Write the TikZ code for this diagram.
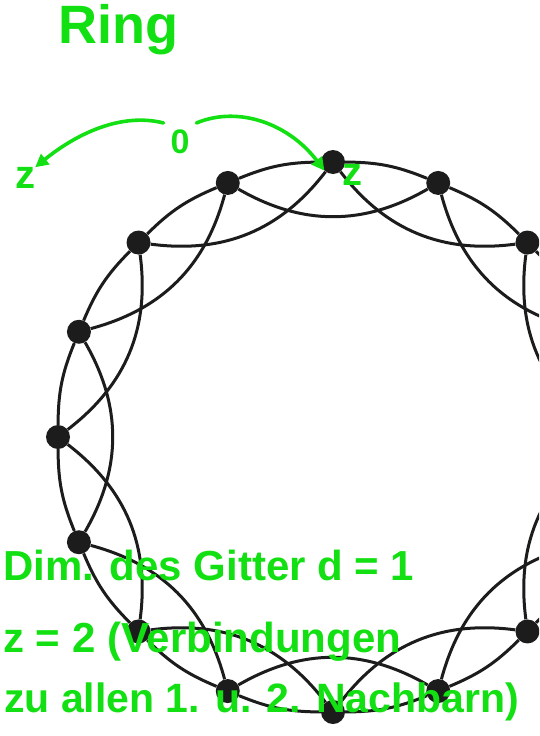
\documentclass[tikz,border=0pt]{standalone}
\usepackage{fontspec}
\usepackage{tikz}
\usetikzlibrary{arrows.meta,calc}
\newfontfamily\handfont{Liberation Sans}
\definecolor{penGreen}{HTML}{12E012}
\definecolor{ringInk}{HTML}{1C1C1C}

\begin{document}
\begin{tikzpicture}[
  x=1pt, y=-1pt,
  vertex/.style={circle, fill=ringInk, inner sep=0pt, minimum size=24pt},
  link/.style={draw=ringInk, line width=3pt},
  pen/.style={text=penGreen, inner sep=0pt, font=\handfont\bfseries\fontsize{42}{46}\selectfont},
  penarr/.style={-{Triangle[length=13pt,width=13pt]}, draw=penGreen, line width=3.6pt, line cap=round}
]
  \useasboundingbox (0,0) rectangle (539,736);
  \clip (0,0) rectangle (539,736);

  % ring lattice, 16 sites
  \foreach \k in {0,...,15}
    \node[vertex] (v\k) at ({333+275*cos(90+22.5*\k)}, {437-275*sin(90+22.5*\k)}) {};
  \foreach \k in {0,...,15} {
    \pgfmathtruncatemacro\nA{mod(\k+1,16)}
    \pgfmathtruncatemacro\nB{mod(\k+2,16)}
    \draw[link] (v\k) to[bend right=11] (v\nA);
    \draw[link] (v\k) to[bend left=30] (v\nB);
  }

  % notes
  \node[pen, anchor=base west, font=\handfont\bfseries\fontsize{54}{58}\selectfont] (ring) at (58,43) {Ring};
  \node[pen, font=\handfont\bfseries\fontsize{34}{38}\selectfont, outer sep=7pt] (zero) at (180,142) {0};
  \node[pen, font=\handfont\bfseries\fontsize{40}{44}\selectfont] (zl) at (25,178) {z};
  \node[pen, font=\handfont\bfseries\fontsize{40}{44}\selectfont] (zr) at (352,175) {z};
  \draw[penarr] (zero.north west) .. controls (120,112) and (75,135) .. (zl.north east);
  \draw[penarr] (zero.north east) .. controls (240,105) and (290,125) .. (v0.south west);

  \node[pen, anchor=base west] (dim) at (3,580) {Dim. des Gitter d = 1};
  \node[pen, anchor=base west] (coord) at (3,652) {z = 2 (Verbindungen};
  \node[pen, anchor=base west, font=\handfont\bfseries\fontsize{41}{46}\selectfont] (nbrs) at (4,712) {zu allen 1. u. 2. Nachbarn)};
\end{tikzpicture}
\end{document}
